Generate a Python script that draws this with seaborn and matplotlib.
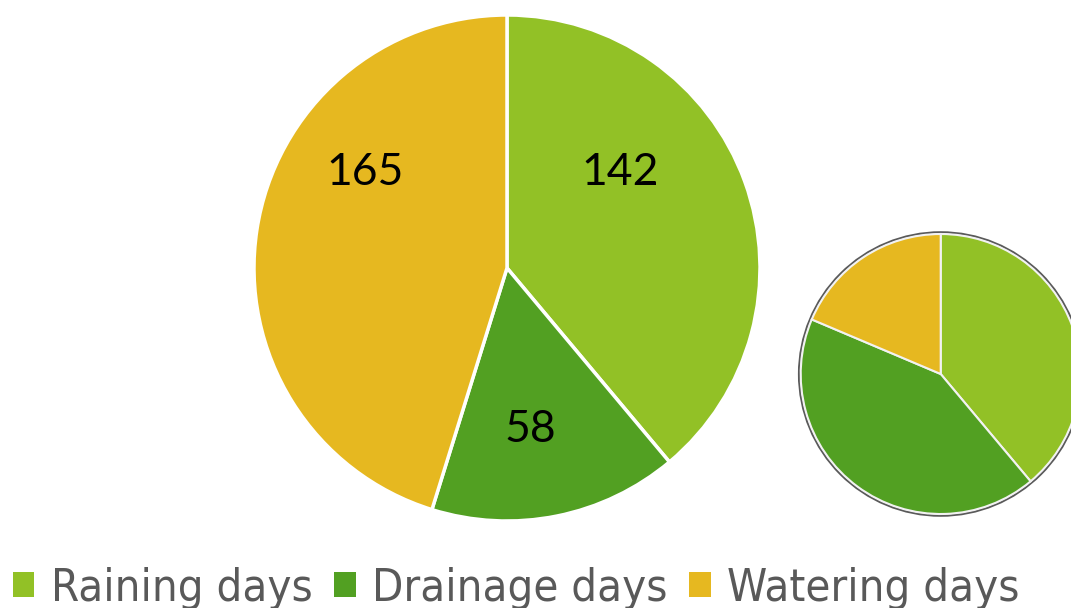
import matplotlib
matplotlib.use("Agg")
import matplotlib.pyplot as plt
import seaborn as sns
from matplotlib.patches import Patch, Circle

sns.set_theme(style="white")
plt.rcParams['font.family'] = ['Lato', 'DejaVu Sans']

categories = ["Raining days", "Drainage days", "Watering days"]
main_values = [142, 58, 165]
small_values = [142, 155, 68]
colors = ["#92C126", "#52A022", "#E6B820"]

W, H = 1071, 608
fig = plt.figure(figsize=(W / 100, H / 100), dpi=100)
fig.patch.set_facecolor("white")

def square_axes(cx, cy, r):
    return fig.add_axes([(cx - r) / W, (H - cy - r) / H, 2 * r / W, 2 * r / H])

# Main pie
ax1 = square_axes(507, 268, 253)
wedges, _ = ax1.pie(main_values, colors=colors, startangle=90, counterclock=False,
                    radius=1, wedgeprops=dict(edgecolor="white", linewidth=2.5))
ax1.set_xlim(-1, 1); ax1.set_ylim(-1, 1)
ax1.axis("off")
for w in wedges:
    w.set_clip_on(False)
label_pos = [(0.447, 0.379), (0.091, -0.640), (-0.561, 0.379)]
for (x, y), v in zip(label_pos, main_values):
    ax1.text(x, y, str(v), ha="center", va="center", fontsize=32, color="black")

# Small pie
ax2 = square_axes(940.7, 374, 140)
ax2.add_patch(Circle((0, 0), 1.012, facecolor="none", edgecolor="#5a5a5a", linewidth=1.6, zorder=0))
w2, _ = ax2.pie(small_values, colors=colors, startangle=90, counterclock=False,
                radius=1, wedgeprops=dict(edgecolor="#f2f2f2", linewidth=1.5))
ax2.set_xlim(-1, 1); ax2.set_ylim(-1, 1)
ax2.axis("off")
for p in ax2.patches:
    p.set_clip_on(False)

# Legend
handles = [Patch(facecolor=c, edgecolor="none") for c in colors]
leg = fig.legend(handles, categories, loc="lower center", bbox_to_anchor=(0.482, -0.070),
                 ncol=3, frameon=False, handlelength=0.48, handleheight=0.48,
                 handletextpad=0.36, columnspacing=0.48, labelcolor="#595959",
                 prop=dict(family="DejaVu Sans", stretch="condensed", size=32.6))

fig.savefig("out.png", dpi=100, facecolor="white")
